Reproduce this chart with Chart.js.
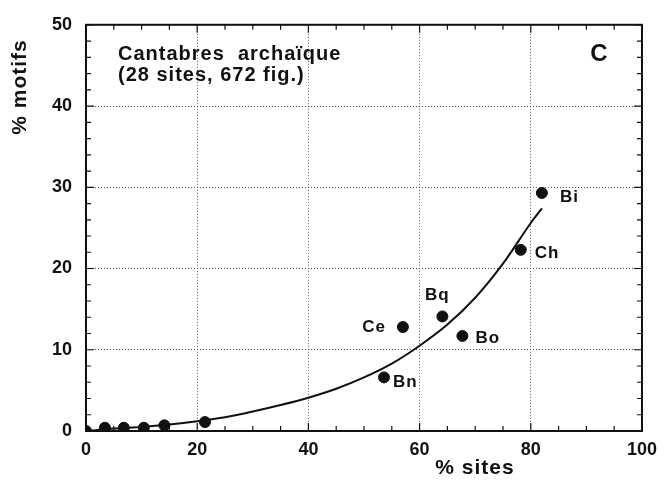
<!DOCTYPE html>
<html>
<head>
<meta charset="utf-8">
<script src="https://cdn.jsdelivr.net/npm/chart.js@4.4.1/dist/chart.umd.min.js"></script>
<style>
  html, body { margin: 0; padding: 0; background: #fff; }
  #wrap { width: 665px; height: 481px; }
</style>
</head>
<body>
<div id="wrap"><canvas id="chart" width="665" height="481"></canvas></div>
<script>
// sites data
const siteX = [0, 3.4, 6.8, 10.4, 14.1, 21.4, 53.6, 57.0, 64.1, 67.7, 78.2, 82.0];
const siteY = [0, 0.4, 0.4, 0.4, 0.7, 1.1, 6.6, 12.8, 14.1, 11.7, 22.3, 29.3];
const siteNames = ["", "", "", "", "", "", "Bn", "Ce", "Bq", "Bo", "Ch", "Bi"];

// fitted curve
const curveX = [0, 5, 10, 15, 20, 25, 30, 35, 40, 45, 50, 55, 60, 65, 70, 75, 80, 82];
const curveY = [0, 0.3, 0.5, 0.8, 1.2, 1.7, 2.4, 3.2, 4.1, 5.2, 6.6, 8.3, 10.5, 13.1, 16.4, 20.6, 25.6, 27.4];

const xTicks = [0, 20, 40, 60, 80, 100];
const yTicks = [0, 10, 20, 30, 40, 50];

const FONT = "'Liberation Sans', Arial, sans-serif";

// label offsets relative to the point (dx, dy, align)
const labelPos = {
  Bn: [9, 5, "left"],
  Ce: [-17, 0, "right"],
  Bq: [-5, -21, "center"],
  Bo: [13, 2, "left"],
  Ch: [14, 3, "left"],
  Bi: [18, 4, "left"]
};

const decor = {
  id: "decor",
  afterDatasetsDraw(chart) {
    const { ctx, chartArea: a, scales } = chart;
    const xs = scales.x, ys = scales.y;
    ctx.save();
    ctx.strokeStyle = "#111";
    ctx.lineWidth = 1.2;
    // inward ticks on all four sides
    for (let v = 0; v <= 100; v += 5) {
      const px = xs.getPixelForValue(v);
      const len = v % 20 === 0 ? 8 : 5;
      ctx.beginPath();
      ctx.moveTo(px, a.bottom); ctx.lineTo(px, a.bottom - len);
      ctx.moveTo(px, a.top); ctx.lineTo(px, a.top + len);
      ctx.stroke();
    }
    for (let v = 0; v <= 50; v += 2) {
      const py = ys.getPixelForValue(v);
      const len = v % 10 === 0 ? 8 : 5;
      ctx.beginPath();
      ctx.moveTo(a.left, py); ctx.lineTo(a.left + len, py);
      ctx.moveTo(a.right, py); ctx.lineTo(a.right - len, py);
      ctx.stroke();
    }
    // frame
    ctx.lineWidth = 2;
    ctx.strokeRect(a.left, a.top, a.right - a.left, a.bottom - a.top);

    ctx.fillStyle = "#111";
    // point labels
    ctx.font = "bold 17px " + FONT;
    ctx.letterSpacing = "1px";
    ctx.textBaseline = "middle";
    siteNames.forEach((n, i) => {
      if (!n) return;
      const p = labelPos[n];
      ctx.textAlign = p[2];
      ctx.fillText(n, xs.getPixelForValue(siteX[i]) + p[0], ys.getPixelForValue(siteY[i]) + p[1]);
    });

    // annotation texts
    ctx.font = "bold 20px " + FONT;
    ctx.textAlign = "left";
    ctx.textBaseline = "alphabetic";
    ctx.fillText("Cantabres  archaïque", a.left + 32, 60);
    ctx.fillText("(28 sites, 672 fig.)", a.left + 32, 81);
    ctx.letterSpacing = "0px";
    ctx.font = "bold 24px " + FONT;
    ctx.textAlign = "center";
    ctx.textBaseline = "middle";
    ctx.fillText("C", a.right - 43, 54);

    // axis titles
    ctx.font = "bold 21px " + FONT;
    ctx.letterSpacing = "1px";
    ctx.textAlign = "center";
    ctx.textBaseline = "middle";
    ctx.fillText("% sites", 475, 468);
    ctx.translate(20, 87);
    ctx.rotate(-Math.PI / 2);
    ctx.fillText("% motifs", 0, 0);
    ctx.restore();
  }
};

new Chart(document.getElementById("chart"), {
  type: "scatter",
  data: {
    datasets: [
      {
        type: "line",
        data: curveX.map((x, i) => ({ x: x, y: curveY[i] })),
        borderColor: "#111",
        borderWidth: 2,
        pointRadius: 0,
        cubicInterpolationMode: "monotone",
        fill: false
      },
      {
        data: siteX.map((x, i) => ({ x: x, y: siteY[i] })),
        backgroundColor: "#111",
        borderColor: "#111",
        pointRadius: 5.5,
        pointHoverRadius: 5.5
      }
    ]
  },
  plugins: [decor],
  options: {
    responsive: false,
    animation: false,
    layout: { padding: { left: 0, right: 19, top: 16, bottom: 0 } },
    plugins: { legend: { display: false }, tooltip: { enabled: false } },
    scales: {
      x: {
        type: "linear",
        min: 0, max: 100,
        afterBuildTicks: (s) => { s.ticks = xTicks.map(v => ({ value: v })); },
        afterFit: (s) => { s.height = 50; },
        border: { display: false, dash: [1, 2] },
        grid: { color: "#555", drawTicks: false, lineWidth: 1 },
        ticks: { color: "#111", font: { family: FONT, size: 18, weight: "bold" }, padding: 8, maxRotation: 0 }
      },
      y: {
        type: "linear",
        min: 0, max: 50,
        afterBuildTicks: (s) => { s.ticks = yTicks.map(v => ({ value: v })); },
        afterFit: (s) => { s.width = 86; },
        border: { display: false, dash: [1, 2] },
        grid: { color: "#555", drawTicks: false, lineWidth: 1 },
        ticks: { color: "#111", font: { family: FONT, size: 18, weight: "bold" }, padding: 14 }
      }
    }
  }
});
</script>
</body>
</html>
